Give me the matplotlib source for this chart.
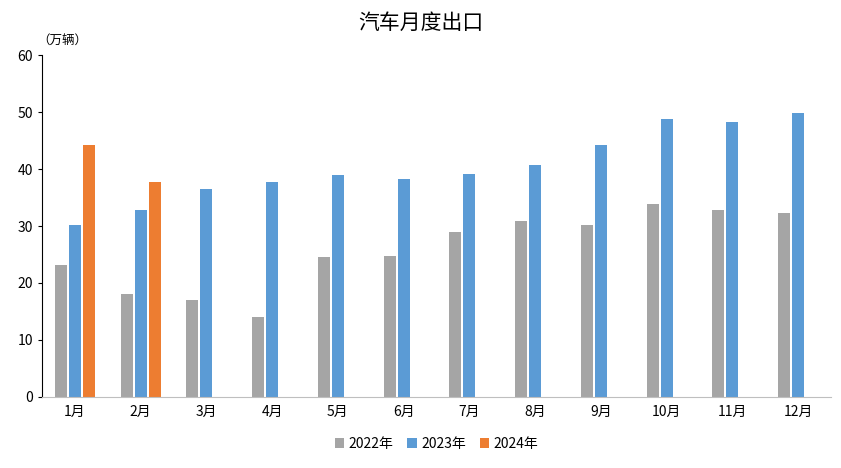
import numpy as np
import matplotlib.pyplot as plt

plt.rcParams["font.family"] = "Noto Sans CJK SC"

months = ["1月", "2月", "3月", "4月", "5月", "6月", "7月", "8月", "9月", "10月", "11月", "12月"]
exp_2022 = [23.2, 18.0, 17.0, 14.0, 24.5, 24.8, 29.0, 30.8, 30.2, 33.8, 32.8, 32.3]
exp_2023 = [30.2, 32.8, 36.5, 37.7, 39.0, 38.2, 39.2, 40.8, 44.3, 48.8, 48.3, 49.8]
exp_2024 = [44.3, 37.7]

fig = plt.figure(figsize=(8.41, 4.68), dpi=100)
ax = fig.add_axes([0.05, 0.152, 0.938, 0.73])

x = np.arange(len(months))
slot = 14 / 65.7
w = 12 / 65.7
ax.bar(x - slot, exp_2022, w, color="#a5a5a5", label="2022年")
ax.bar(x, exp_2023, w, color="#5b9bd5", label="2023年")
ax.bar(x[:len(exp_2024)] + slot, exp_2024, w, color="#ed7d31", label="2024年")

ax.set_xlim(-0.5, 11.5)
ax.set_ylim(0, 60)
ax.set_yticks(range(0, 61, 10))
ax.set_xticks(x)
ax.set_xticklabels(months, fontsize=10)
ax.tick_params(axis="y", labelsize=10, length=3)
ax.tick_params(axis="x", length=0, pad=6)
for s in ["top", "right"]:
    ax.spines[s].set_visible(False)
ax.spines["bottom"].set_color("#bfbfbf")
ax.spines["left"].set_color("black")

ax.text(-0.006, 1.025, "（万辆）", transform=ax.transAxes, fontsize=9, va="bottom", ha="left")
fig.suptitle("汽车月度出口", y=0.975, fontsize=15)
ax.legend(loc="upper center", bbox_to_anchor=(0.5, -0.08), ncol=3, frameon=False,
          fontsize=10, handlelength=0.7, handleheight=0.7, columnspacing=1.0, handletextpad=0.3)

fig.savefig("out.png", dpi=100)
